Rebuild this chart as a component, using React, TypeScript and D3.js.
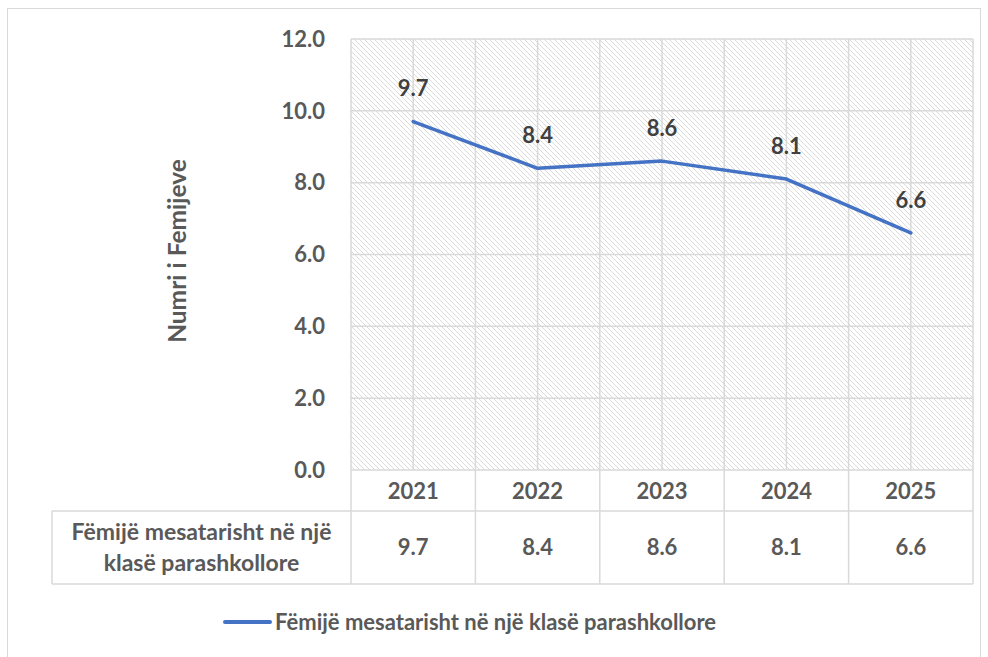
import React from "react";
import * as d3 from "d3";

const years = ["2021", "2022", "2023", "2024", "2025"];
const values = [9.7, 8.4, 8.6, 8.1, 6.6];
const yTicks = [0, 2, 4, 6, 8, 10, 12];
const seriesName = "Fëmijë mesatarisht në një klasë parashkollore";
const tableLabelLines = ["Fëmijë mesatarisht në një", "klasë parashkollore"];
const yTitle = "Numri i Femijeve";

const W = 988;
const H = 657;
const left = 351;
const right = 973;
const top = 39;
const bottom = 470;
const headerBottom = 511;
const tableBottom = 584;
const tableLeft = 52;
const font = "Lato, 'Open Sans', sans-serif";
const fs = 22;
const grid = "#d9d9d9";
const textCol = "#595959";

export default function App() {
  const x = d3.scaleBand<string>().domain(years).range([left, right]);
  const y = d3.scaleLinear().domain([0, 12]).range([bottom, top]);
  const cx = (d: string) => (x(d) as number) + x.bandwidth() / 2;
  const line = d3
    .line<number>()
    .x((_, i) => cx(years[i]))
    .y((v) => y(v));
  const bounds = [...years.map((d) => x(d) as number), right];

  return (
    <svg width={W} height={H} style={{ position: "absolute", left: 0, top: 0, background: "#fff" }}>
      <defs>
        <pattern id="hatch" patternUnits="userSpaceOnUse" width={5} height={5}>
          <rect width={5} height={5} fill="#fff" />
          <path d="M-1,-1 L6,6 M-1,4 L1,6 M4,-1 L6,1" stroke="#d6d6d6" strokeWidth={0.9} />
        </pattern>
      </defs>
      <rect x={7.5} y={8.5} width={973} height={660} fill="#fff" stroke="#d9d9d9" strokeWidth={1} />
      <rect x={left} y={top} width={right - left} height={bottom - top} fill="url(#hatch)" />
      {yTicks.map((t) => (
        <line key={"h" + t} x1={left} x2={right} y1={y(t)} y2={y(t)} stroke={grid} strokeWidth={1.5} />
      ))}
      {bounds.map((b, i) => (
        <line key={"vb" + i} x1={b} x2={b} y1={top} y2={tableBottom} stroke={grid} strokeWidth={1.5} />
      ))}
      {years.map((d) => (
        <line key={"vc" + d} x1={cx(d)} x2={cx(d)} y1={top} y2={bottom} stroke={grid} strokeWidth={1.5} />
      ))}
      <line x1={tableLeft} x2={right} y1={headerBottom} y2={headerBottom} stroke={grid} strokeWidth={1.5} />
      <line x1={tableLeft} x2={right} y1={tableBottom} y2={tableBottom} stroke={grid} strokeWidth={1.5} />
      <line x1={tableLeft} x2={tableLeft} y1={headerBottom} y2={tableBottom} stroke={grid} strokeWidth={1.5} />
      {yTicks.map((t) => (
        <text key={"yt" + t} x={325} y={y(t)} dy="0.35em" textAnchor="end" fontFamily={font} fontWeight={700} fontSize={fs} fill={textCol}>
          {t.toFixed(1)}
        </text>
      ))}
      <text
        transform={`translate(177,251) rotate(-90)`}
        textAnchor="middle"
        dy="0.35em"
        fontFamily={font}
        fontWeight={700}
        fontSize={24.5}
        fill={textCol}
      >
        {yTitle}
      </text>
      {years.map((d) => (
        <text key={"yr" + d} x={cx(d)} y={(bottom + headerBottom) / 2 + 1} dy="0.35em" textAnchor="middle" fontFamily={font} fontWeight={700} fontSize={fs} fill={textCol}>
          {d}
        </text>
      ))}
      {years.map((d, i) => (
        <text key={"tv" + d} x={cx(d)} y={(headerBottom + tableBottom) / 2} dy="0.35em" textAnchor="middle" fontFamily={font} fontWeight={700} fontSize={fs} fill={textCol}>
          {values[i].toFixed(1)}
        </text>
      ))}
      {tableLabelLines.map((l, i) => (
        <text key={"tl" + i} x={(tableLeft + left) / 2} y={532 + i * 31} dy="0.35em" textAnchor="middle" fontFamily={font} fontWeight={700} fontSize={23} fill={textCol}>
          {l}
        </text>
      ))}
      <path d={line(values) || ""} fill="none" stroke="#4472C4" strokeWidth={3.5} strokeLinejoin="round" strokeLinecap="round" />
      {years.map((d, i) => (
        <text key={"dl" + d} x={cx(d)} y={y(values[i]) - 33} dy="0.35em" textAnchor="middle" fontFamily={font} fontWeight={700} fontSize={fs} fill="#404040">
          {values[i].toFixed(1)}
        </text>
      ))}
      <line x1={225} x2={270} y1={622} y2={622} stroke="#4472C4" strokeWidth={4} strokeLinecap="round" />
      <text x={275} y={622} dy="0.35em" fontFamily={font} fontWeight={700} fontSize={fs} fill={textCol}>
        {seriesName}
      </text>
    </svg>
  );
}
